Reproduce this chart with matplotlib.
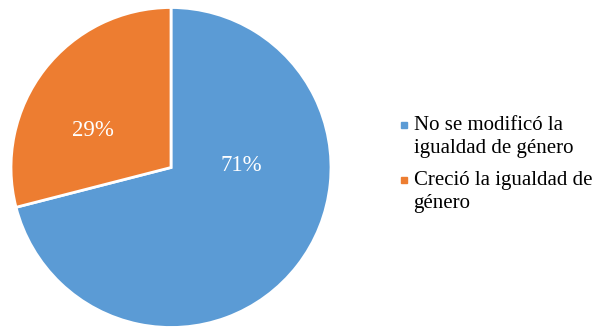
import matplotlib
matplotlib.use("Agg")
import matplotlib.pyplot as plt
from matplotlib.lines import Line2D
from matplotlib.legend_handler import HandlerLine2D

plt.rcParams["font.family"] = ["Liberation Serif", "DejaVu Serif"]

# Survey answer shares
categories = ["No se modificó la\nigualdad de género", "Creció la igualdad de\ngénero"]
shares = [71, 29]
colors = ["#5B9BD5", "#ED7D31"]
# label offsets (fraction of radius) chosen like the spreadsheet "best fit"
label_pos = [(0.44, 0.01), (-0.49, 0.23)]


class FirstLineMarker(HandlerLine2D):
    """Legend marker lined up with the first text line instead of the middle."""

    def __init__(self, lift, **kw):
        super().__init__(**kw)
        self.lift = lift

    def create_artists(self, legend, orig_handle, xdescent, ydescent,
                       width, height, fontsize, trans):
        artists = super().create_artists(legend, orig_handle, xdescent, ydescent,
                                         width, height, fontsize, trans)
        for a in artists:
            a.set_ydata([y + self.lift * fontsize for y in a.get_ydata()])
        return artists


W, H = 599, 328
fig = plt.figure(figsize=(W / 100, H / 100), dpi=100)
fig.patch.set_facecolor("white")

# pie centred at (171, 167.5) px, radius 160 px
cx, cy, r = 171, 167.5, 160
ax = fig.add_axes([(cx - r) / W, (H - cy - r) / H, 2 * r / W, 2 * r / H])
wedges, _ = ax.pie(
    shares, colors=colors, startangle=90, counterclock=False,
    wedgeprops=dict(edgecolor="white", linewidth=2),
)
ax.set_xlim(-1, 1)
ax.set_ylim(-1, 1)
ax.set_aspect("equal")

for val, (x, y) in zip(shares, label_pos):
    ax.text(x, y, f"{val}%", ha="center", va="center", color="white", fontsize=16.5)

handles = [Line2D([], [], marker="s", linestyle="none", markersize=4.5,
                  markerfacecolor=c, markeredgecolor=c) for c in colors]
leg = fig.legend(handles, categories, loc="upper left",
                 bbox_to_anchor=(399 / W, 1 - 116 / H), frameon=False,
                 fontsize=15, handlelength=0.5, handletextpad=0.2,
                 labelspacing=0.65, borderpad=0, borderaxespad=0,
                 handler_map={Line2D: FirstLineMarker(lift=0.55)})
for t in leg.get_texts():
    t.set_linespacing(1.26)

fig.savefig("out.png", dpi=100, facecolor="white")
